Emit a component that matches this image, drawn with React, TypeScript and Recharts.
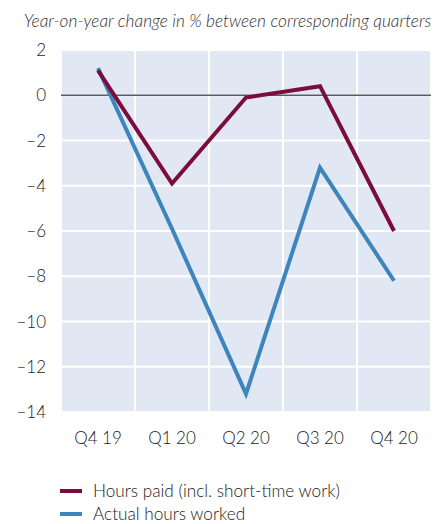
import React from "react";
import { LineChart, Line, XAxis, YAxis, CartesianGrid, ReferenceLine } from "recharts";

const quarters = ["Q4 19", "Q1 20", "Q2 20", "Q3 20", "Q4 20"];
const hoursPaid = [1.1, -3.9, -0.1, 0.4, -6.0];
const actualHours = [1.2, -5.9, -13.2, -3.2, -8.2];
const yTicks = [2, 0, -2, -4, -6, -8, -10, -12, -14];
const gridBoundaries = [0.5, 1.5, 2.5, 3.5];

const data = quarters.map((q, i) => ({ idx: i, q, paid: hoursPaid[i], actual: actualHours[i] }));

const MAROON = "#7b0c3f";
const BLUE = "#3d85bb";
const FONT = "Lato, 'Open Sans', sans-serif";

const fmt = (v: number) => (v < 0 ? "\u2013" + Math.abs(v) : String(v));

export default function App() {
  return (
    <div style={{ position: "absolute", left: 0, top: 0, width: 443, height: 524, background: "#fff", fontFamily: FONT, fontWeight: 300 }}>
      <div
        style={{
          position: "absolute",
          left: 0,
          top: 10,
          width: 443,
          textAlign: "center",
          fontStyle: "italic",
          fontSize: 17.3,
          color: "#333",
          paddingLeft: 6,
          whiteSpace: "nowrap",
        }}
      >
        Year-on-year change in % between corresponding quarters
      </div>
      <div style={{ position: "absolute", left: 0, top: 0 }}>
        <LineChart width={443} height={524} data={data} margin={{ top: 50, right: 12, left: 0, bottom: 72 }}>
          <CartesianGrid
            xAxisId="grid"
            fill="#e1e8f3"
            stroke="#ffffff"
            strokeWidth={2}
            fillOpacity={1}
          />
          <XAxis
            xAxisId="grid"
            type="number"
            dataKey="idx"
            domain={[-0.5, 4.5]}
            ticks={gridBoundaries}
            hide
          />
          <XAxis
            type="number"
            dataKey="idx"
            domain={[-0.5, 4.5]}
            ticks={[0, 1, 2, 3, 4]}
            tickFormatter={(i: number) => quarters[i]}
            axisLine={false}
            tickLine={false}
            tickSize={0}
            tickMargin={20}
            height={40}
            tick={{ fill: "#222", fontSize: 17, fontFamily: FONT, fontWeight: 300 }}
            interval={0}
          />
          <YAxis
            type="number"
            domain={[-14, 2]}
            ticks={yTicks}
            tickFormatter={fmt}
            axisLine={false}
            tickLine={false}
            tickSize={0}
            tickMargin={15}
            width={61}
            tick={{ fill: "#222", fontSize: 17, fontFamily: FONT, fontWeight: 300 }}
            interval={0}
          />
          <ReferenceLine y={0} stroke="#5a5a5a" strokeWidth={1.5} />
          <Line
            type="linear"
            dataKey="actual"
            stroke={BLUE}
            strokeWidth={4}
            dot={false}
            isAnimationActive={false}
          />
          <Line
            type="linear"
            dataKey="paid"
            stroke={MAROON}
            strokeWidth={4}
            dot={false}
            isAnimationActive={false}
          />
        </LineChart>
      </div>
      <div style={{ position: "absolute", left: 60, top: 479, fontSize: 17.2, color: "#222", lineHeight: "23px", whiteSpace: "nowrap" }}>
        <div style={{ display: "flex", alignItems: "center" }}>
          <span style={{ display: "inline-block", width: 22, height: 4, background: MAROON, marginRight: 11 }} />
          Hours paid (incl. short-time work)
        </div>
        <div style={{ display: "flex", alignItems: "center" }}>
          <span style={{ display: "inline-block", width: 22, height: 4, background: BLUE, marginRight: 11 }} />
          Actual hours worked
        </div>
      </div>
    </div>
  );
}
